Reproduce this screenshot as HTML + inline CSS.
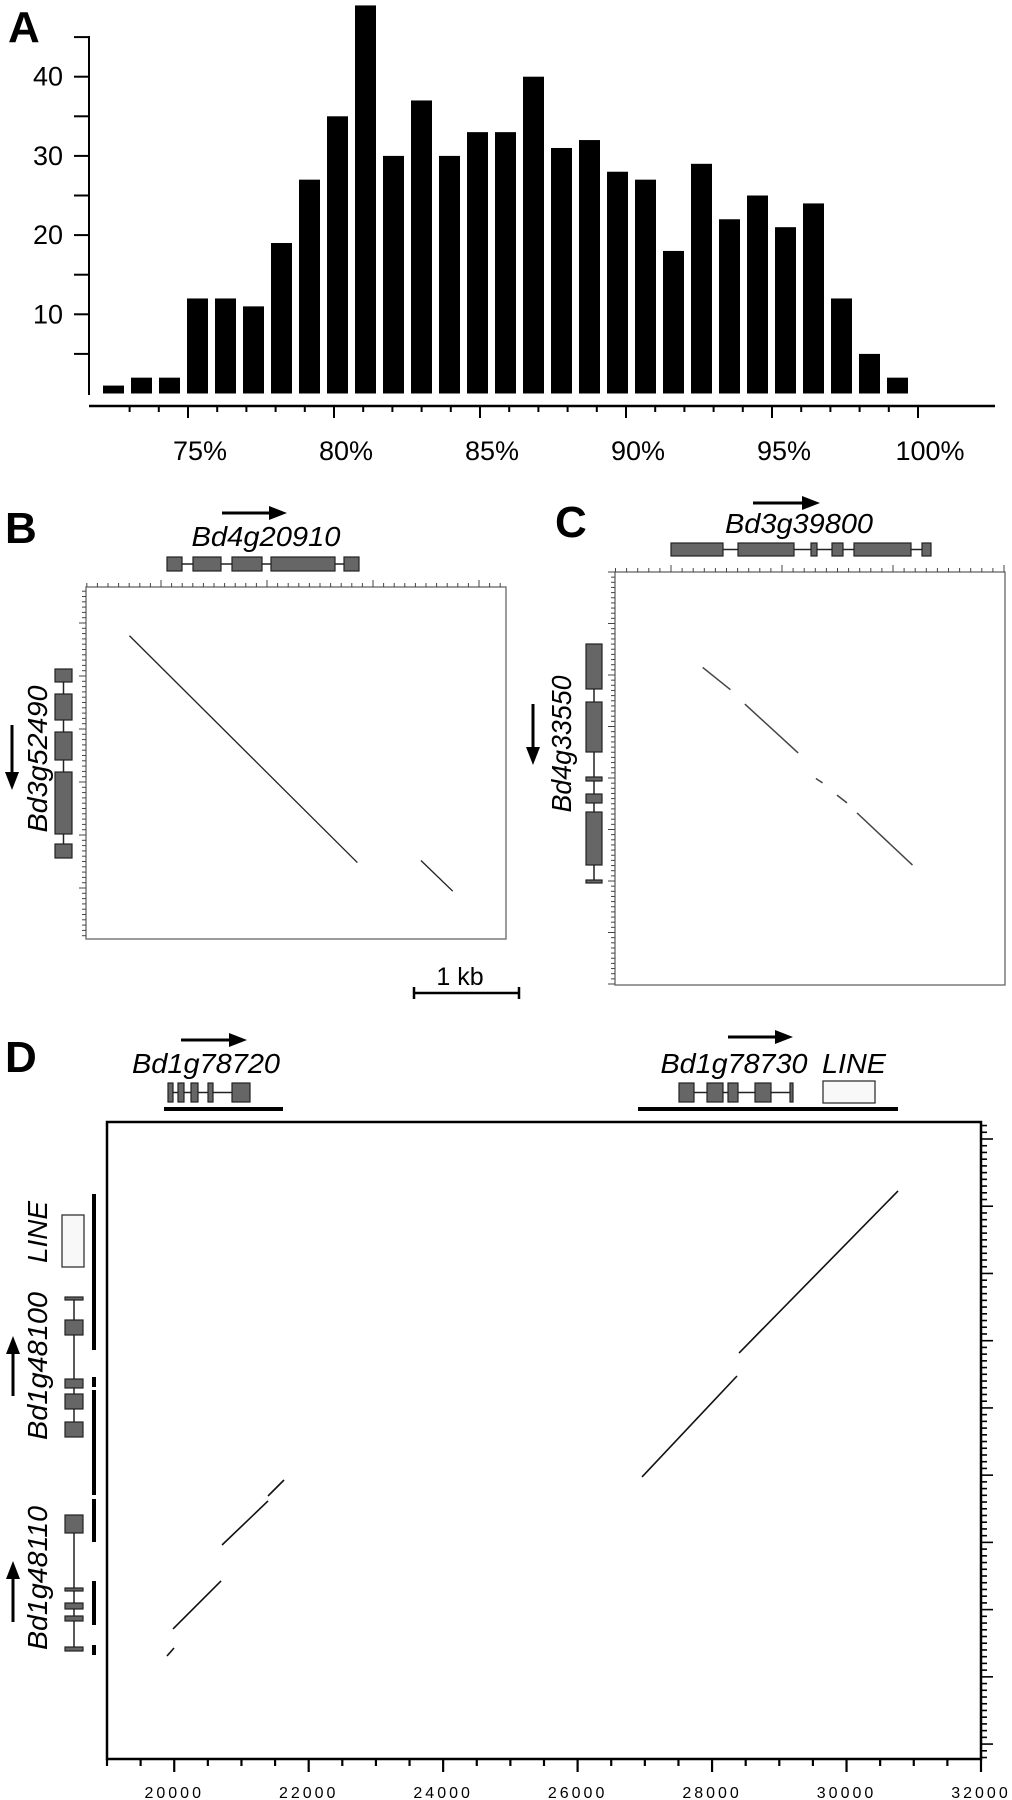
<!DOCTYPE html>
<html><head><meta charset="utf-8"><style>
html,body{margin:0;padding:0;background:#fff;}
svg{display:block;font-family:"Liberation Sans",Arial,sans-serif;}
</style></head><body>
<svg id="fig" width="1012" height="1800" viewBox="0 0 1012 1800" xmlns="http://www.w3.org/2000/svg">
<g id="pA"></g>
<g id="pB"></g>
<g id="pC"></g>
<g id="pD"></g>
</svg>
<script>
// ---------- Panel A data ----------
const aCategories = [72,73,74,75,76,77,78,79,80,81,82,83,84,85,86,87,88,89,90,91,92,93,94,95,96,97,98,99,100];
const aValues = [1,2,2,12,12,11,19,27,35,49,30,37,30,33,33,40,31,32,28,27,18,29,22,25,21,24,12,5,2];
const aYTicks = [10,20,30,40];
const aXTickLabels = ["75%","80%","85%","90%","95%","100%"];
const aXTickValues = [75,80,85,90,95,100];

// ---------- Panel B data (kb) ----------
const bSegX1 = [0.41, 3.16];
const bSegY1 = [0.46, 2.58];
const bSegX2 = [2.56, 3.46];
const bSegY2 = [2.60, 2.87];

// ---------- Panel C data (kb) ----------
const cSegX1 = [0.79, 1.17, 1.81, 2.00, 2.18];
const cSegY1 = [0.86, 1.19, 1.86, 2.01, 2.17];
const cSegX2 = [1.04, 1.65, 1.87, 2.09, 2.68];
const cSegY2 = [1.06, 1.63, 1.90, 2.08, 2.64];

// ---------- Panel D data (bp) ----------
const dSegX1 = [19892, 19982, 20711, 21395, 26958, 28401];
const dSegY1 = [7943, 7541, 6292, 5563, 5280, 3436];
const dSegX2 = [19997, 20696, 21395, 21633, 28371, 30766];
const dSegY2 = [7824, 6827, 5637, 5325, 3778, 1026];
const dXTicks = [20000,22000,24000,26000,28000,30000,32000];

const NS = "http://www.w3.org/2000/svg";
function mk(parent, tag, attrs, text){
  const e = document.createElementNS(NS, tag);
  for (const k in attrs) e.setAttribute(k, attrs[k]);
  if (text !== undefined) e.textContent = text;
  parent.appendChild(e);
  return e;
}
const A = document.getElementById('pA');
const B = document.getElementById('pB');
const C = document.getElementById('pC');
const D = document.getElementById('pD');

// ===== Panel A =====
let t = mk(A,'text',{x:8,y:42,'font-size':44,'font-weight':'bold'},'A');


const ay = v => 393.5 - v*7.92;
const axPct = p => 918 - (100-p)*29.2;
const axBar = i => 103 + i*28;
aValues.forEach((v,i)=>{
  const r = mk(A,'rect',{x:axBar(i),y:ay(v),width:21,height:ay(0)-ay(v),fill:'#000'});
  
  
});
let l = mk(A,'line',{x1:89,y1:36,x2:89,y2:395,stroke:'#000','stroke-width':2});


for (let v=5; v<=45; v+=5){
  mk(A,'line',{x1:74,y1:ay(v),x2:89,y2:ay(v),stroke:'#000','stroke-width':2});
}
aYTicks.forEach(v=>{
  const tx = mk(A,'text',{x:63,y:ay(v)+9,'font-size':27,'text-anchor':'end'},String(v));
  
  
});
l = mk(A,'line',{x1:89,y1:406,x2:995,y2:406,stroke:'#000','stroke-width':2.5});


for (let p=73; p<=100; p++){
  const major = p%5===0;
  mk(A,'line',{x1:axPct(p),y1:406,x2:axPct(p),y2:major?418:412,stroke:'#000','stroke-width':2});
}
aXTickValues.forEach((p,i)=>{
  const tx = mk(A,'text',{x:axPct(p)+12,y:460,'font-size':27,'text-anchor':'middle'},aXTickLabels[i]);
  
  
});

// helpers for genes
function hgene(g, y, h, exons, name){
  const grp = mk(g,'g',{});
  
  
  mk(grp,'line',{x1:exons[0][0],y1:y+h/2,x2:exons[exons.length-1][1],y2:y+h/2,stroke:'#222','stroke-width':1.5});
  exons.forEach(e=>mk(grp,'rect',{x:e[0],y:y,width:e[1]-e[0],height:h,fill:'#666',stroke:'#222','stroke-width':1.2}));
  return grp;
}
function vgene(g, x, w, exons, name){
  const grp = mk(g,'g',{});
  
  
  mk(grp,'line',{x1:x+w/2,y1:exons[0][0],x2:x+w/2,y2:exons[exons.length-1][1],stroke:'#222','stroke-width':1.5});
  exons.forEach(e=>mk(grp,'rect',{x:x,y:e[0],width:w,height:e[1]-e[0],fill:'#666',stroke:'#222','stroke-width':1.2}));
  return grp;
}
function harrow(g,x1,x2,y,name){
  const grp = mk(g,'g',{});
  
  
  mk(grp,'line',{x1:x1,y1:y,x2:x2-14,y2:y,stroke:'#000','stroke-width':3});
  mk(grp,'polygon',{points:`${x2},${y} ${x2-18},${y-7} ${x2-18},${y+7}`,fill:'#000'});
}
function varrow(g,x,y1,y2,name){
  const grp = mk(g,'g',{});
  
  
  const dir = y2>y1?1:-1;
  mk(grp,'line',{x1:x,y1:y1,x2:x,y2:y2-dir*14,stroke:'#000','stroke-width':3});
  mk(grp,'polygon',{points:`${x},${y2} ${x-7},${y2-dir*18} ${x+7},${y2-dir*18}`,fill:'#000'});
}
function itext(g,x,y,s,size,name,rot,len){
  const a = {x:x,y:y,'font-size':size,'font-style':'italic','text-anchor':'middle'};
  if (rot) a.transform = `rotate(-90 ${x} ${y})`;
  if (len) { a.textLength = len; a.lengthAdjust='spacingAndGlyphs'; }
  const e = mk(g,'text',a,s);
  
  
  return e;
}
function seg(g,x1,y1,x2,y2,name,w,col){
  const e = mk(g,'line',{x1:x1,y1:y1,x2:x2,y2:y2,stroke:col||'#222','stroke-width':w||1.3});
  
  
}

// ===== Panel B =====
t = mk(B,'text',{x:5,y:543,'font-size':44,'font-weight':'bold'},'B');


harrow(B,222,287,513,'gene-direction-arrow-bd4g20910');
itext(B,266,546,'Bd4g20910',28,'gene-label-bd4g20910',false,149);
hgene(B,557,14,[[167,182],[193,221],[232,262],[271,335],[344,359]],'gene-model-bd4g20910');
varrow(B,12,725,790,'gene-direction-arrow-bd3g52490');
itext(B,47,759,'Bd3g52490',28,'gene-label-bd3g52490',true,147);
vgene(B,55,17,[[669,682],[694,720],[732,760],[772,834],[844,858]],'gene-model-bd3g52490');
let r = mk(B,'rect',{x:86,y:587,width:420,height:352,fill:'none',stroke:'#666','stroke-width':1.3});


for (let k=-7;k<=32;k++){ const x=161+k*10.6; if(x<86||x>506) continue; const mj=k%10===0;
  mk(B,'line',{x1:x,y1:587,x2:x,y2:mj?580:583,stroke:'#444','stroke-width':1}); }
for (let k=-6;k<=60;k++){ const y=623+k*5.3; if(y<587||y>939) continue; const mj=k%10===0;
  mk(B,'line',{x1:86,y1:y,x2:mj?79:82,y2:y,stroke:'#444','stroke-width':1}); }
const bx = v => 86 + v*106, by = v => 587 + v*106;
bSegX1.forEach((_,i)=>seg(B,bx(bSegX1[i]),by(bSegY1[i]),bx(bSegX2[i]),by(bSegY2[i]),'alignment-b-'+i,1.3));
l = mk(B,'path',{d:'M414 987 V999 M414 993 H519 M519 987 V999',stroke:'#000','stroke-width':2.5,fill:'none'});


t = mk(B,'text',{x:460,y:985,'font-size':25,'text-anchor':'middle'},'1 kb');



// ===== Panel C =====
t = mk(C,'text',{x:555,y:537,'font-size':44,'font-weight':'bold'},'C');


harrow(C,753,820,503,'gene-direction-arrow-bd3g39800');
itext(C,799,533,'Bd3g39800',28,'gene-label-bd3g39800',false,148);
hgene(C,543,13,[[671,723],[738,794],[811,817],[832,843],[854,911],[922,931]],'gene-model-bd3g39800');
varrow(C,533,704,765,'gene-direction-arrow-bd4g33550');
itext(C,571,744,'Bd4g33550',28,'gene-label-bd4g33550',true,137);
vgene(C,586,16,[[644,689],[702,752],[777,781],[794,803],[812,865],[880,883]],'gene-model-bd4g33550');
r = mk(C,'rect',{x:615,y:572,width:390,height:413,fill:'none',stroke:'#666','stroke-width':1.3});


for (let k=-5;k<=40;k++){ const x=671+k*11.1; if(x<615||x>1005) continue; const mj=k%10===0;
  mk(C,'line',{x1:x,y1:572,x2:x,y2:mj?565:568,stroke:'#444','stroke-width':1}); }
for (let k=0;k<=80;k++){ const y=572+k*5.15; if(y>985) continue; const mj=k%10===0;
  mk(C,'line',{x1:615,y1:y,x2:mj?608:611,y2:y,stroke:'#444','stroke-width':1}); }
const cx = v => 615 + v*111, cy = v => 572 + v*111;
cSegX1.forEach((_,i)=>seg(C,cx(cSegX1[i]),cy(cSegY1[i]),cx(cSegX2[i]),cy(cSegY2[i]),'alignment-c-'+i,1.5,'#444'));

// ===== Panel D =====
t = mk(D,'text',{x:5,y:1072,'font-size':44,'font-weight':'bold'},'D');


const dx = v => 107 + (v-19000)*0.06723, dy = v => 1122 + v*0.06723;
harrow(D,181,247,1040,'gene-direction-arrow-bd1g78720');
itext(D,206,1073,'Bd1g78720',28,'gene-label-bd1g78720',false,148);
hgene(D,1083,19,[[168,173],[178,184],[191,198],[208,213],[232,250]],'gene-model-bd1g78720');
l = mk(D,'line',{x1:164,y1:1109,x2:283,y2:1109,stroke:'#000','stroke-width':4});


harrow(D,728,793,1037,'gene-direction-arrow-bd1g78730');
itext(D,734,1073,'Bd1g78730',28,'gene-label-bd1g78730',false,147);
itext(D,854,1073,'LINE',28,'line-label-top',false,64);
hgene(D,1083,19,[[679,694],[707,723],[728,738],[755,771],[790,793]],'gene-model-bd1g78730');
r = mk(D,'rect',{x:823,y:1081,width:52,height:22,fill:'#f8f8f8',stroke:'#333','stroke-width':1.3});


l = mk(D,'line',{x1:638,y1:1109,x2:898,y2:1109,stroke:'#000','stroke-width':4});



itext(D,47,1232,'LINE',28,'line-label-left',true,62);
r = mk(D,'rect',{x:62,y:1215,width:22,height:52,fill:'#f8f8f8',stroke:'#333','stroke-width':1.3});


varrow(D,13,1396,1336,'gene-direction-arrow-bd1g48100');
itext(D,47,1366,'Bd1g48100',28,'gene-label-bd1g48100',true,148);
vgene(D,65,18,[[1297,1300],[1320,1335],[1379,1388],[1394,1409],[1422,1437]],'gene-model-bd1g48100');
varrow(D,13,1622,1561,'gene-direction-arrow-bd1g48110');
itext(D,47,1578,'Bd1g48110',28,'gene-label-bd1g48110',true,144);
vgene(D,65,18,[[1515,1533],[1588,1591],[1603,1609],[1616,1621],[1647,1651]],'gene-model-bd1g48110');
[[1194,1350],[1377,1387],[1390,1495],[1499,1542],[1581,1625],[1645,1655]].forEach((s,i)=>{
  const e = mk(D,'line',{x1:94,y1:s[0],x2:94,y2:s[1],stroke:'#000','stroke-width':4});
  
  
});
r = mk(D,'path',{d:'M107 1759 V1122 H981 V1759 Z',fill:'none',stroke:'#000','stroke-width':2.5});


for (let v=19000; v<=32000; v+=500){
  const mj = v%2000===0;
  mk(D,'line',{x1:dx(v),y1:1759,x2:dx(v),y2:mj?1772:1766,stroke:'#000','stroke-width':2.2});
}
dXTicks.forEach(v=>{
  const e = mk(D,'text',{x:dx(v),y:1798,'font-size':16,'text-anchor':'middle','letter-spacing':3},String(v));
  
  
});
for (let k=-2;k<=95;k++){ const y=1139+k*6.723; if(y<1122||y>1759) continue; const mj=k%10===0;
  mk(D,'line',{x1:981,y1:y,x2:mj?993:987,y2:y,stroke:'#000','stroke-width':1.6}); }
dSegX1.forEach((_,i)=>seg(D,dx(dSegX1[i]),dy(dSegY1[i]),dx(dSegX2[i]),dy(dSegY2[i]),'alignment-d-'+i,1.6,'#111'));
</script>
</body></html>
